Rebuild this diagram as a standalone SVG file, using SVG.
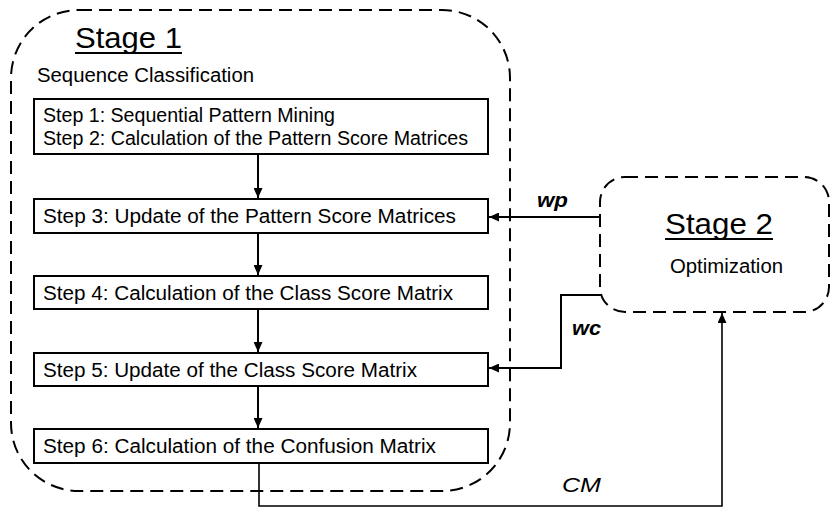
<svg xmlns="http://www.w3.org/2000/svg" width="832" height="508" viewBox="0 0 832 508">
  <style>
    text { font-family: "Liberation Sans", Arial, Helvetica, sans-serif; fill: #000; }
    .stage { fill: none; stroke: #000; stroke-width: 2; stroke-dasharray: 13 7; }
    .step { fill: #fff; stroke: #000; stroke-width: 2; }
    .title { font-size: 30px; }
    .sub { font-size: 19.5px; }
    .lbl { font-size: 19.5px; }
    .ul { stroke: #000; stroke-width: 2; }
    .flow { fill: none; stroke: #000; stroke-width: 2; marker-end: url(#arrow); }
    .w { font-size: 21px; font-weight: bold; font-style: italic; }
    .cm { font-size: 20px; font-style: italic; }
  </style>
  <defs>
    <marker id="arrow" markerUnits="userSpaceOnUse" markerWidth="10" markerHeight="9" refX="10" refY="4.5" orient="auto">
      <path d="M0,0 L10,4.5 L0,9 z" fill="#000"/>
    </marker>
  </defs>
  <rect width="832" height="508" fill="#fff"/>

  <!-- Stage 1: sequence classification -->
  <g id="stage1">
    <rect class="stage" x="11" y="10" width="499" height="481" rx="68" ry="68"/>
    <text class="title" x="75" y="48" textLength="107" lengthAdjust="spacingAndGlyphs">Stage 1</text>
    <line class="ul" x1="75" y1="53" x2="182" y2="53"/>
    <text class="sub" x="37" y="82" textLength="217" lengthAdjust="spacingAndGlyphs">Sequence Classification</text>
  </g>

  <g id="step12">
    <rect class="step" x="34" y="99" width="454" height="55"/>
    <text class="lbl" x="43" y="122" textLength="292" lengthAdjust="spacingAndGlyphs">Step 1: Sequential Pattern Mining</text>
    <text class="lbl" x="43" y="145" textLength="425" lengthAdjust="spacingAndGlyphs">Step 2: Calculation of the Pattern Score Matrices</text>
  </g>
  <g id="step3">
    <rect class="step" x="34" y="199" width="454" height="34"/>
    <text class="lbl" x="43" y="223" textLength="413" lengthAdjust="spacingAndGlyphs">Step 3: Update of the Pattern Score Matrices</text>
  </g>
  <g id="step4">
    <rect class="step" x="34" y="276" width="454" height="33"/>
    <text class="lbl" x="43" y="300" textLength="410" lengthAdjust="spacingAndGlyphs">Step 4: Calculation of the Class Score Matrix</text>
  </g>
  <g id="step5">
    <rect class="step" x="34" y="353" width="454" height="33"/>
    <text class="lbl" x="43" y="377" textLength="374" lengthAdjust="spacingAndGlyphs">Step 5: Update of the Class Score Matrix</text>
  </g>
  <g id="step6">
    <rect class="step" x="34" y="429" width="454" height="34"/>
    <text class="lbl" x="43" y="453" textLength="393" lengthAdjust="spacingAndGlyphs">Step 6: Calculation of the Confusion Matrix</text>
  </g>

  <!-- Stage 2: optimization -->
  <g id="stage2">
    <rect class="stage" x="600" y="177" width="229" height="135" rx="25" ry="25"/>
    <text class="title" x="665" y="234" textLength="108" lengthAdjust="spacingAndGlyphs">Stage 2</text>
    <line class="ul" x1="665" y1="239" x2="773" y2="239"/>
    <text class="sub" x="670" y="273" textLength="113" lengthAdjust="spacingAndGlyphs">Optimization</text>
  </g>

  <!-- Connectors -->
  <g id="connectors">
    <line class="flow" x1="258" y1="154" x2="258" y2="198"/>
    <line class="flow" x1="258" y1="233" x2="258" y2="275"/>
    <line class="flow" x1="258" y1="309" x2="258" y2="352"/>
    <line class="flow" x1="258" y1="386" x2="258" y2="428"/>
    <path class="flow" d="M600,217 L489,217"/>
    <path class="flow" d="M601,295 L561,295 L561,368 L489,368"/>
    <path class="flow" d="M259,463 L259,506 L722,506 L722,313" style="stroke-width:1.6"/>
    <text class="w" x="537" y="207" textLength="31" lengthAdjust="spacingAndGlyphs">wp</text>
    <text class="w" x="572" y="335" textLength="29" lengthAdjust="spacingAndGlyphs">wc</text>
    <text class="cm" x="562" y="492" textLength="39" lengthAdjust="spacingAndGlyphs">CM</text>
  </g>
</svg>
